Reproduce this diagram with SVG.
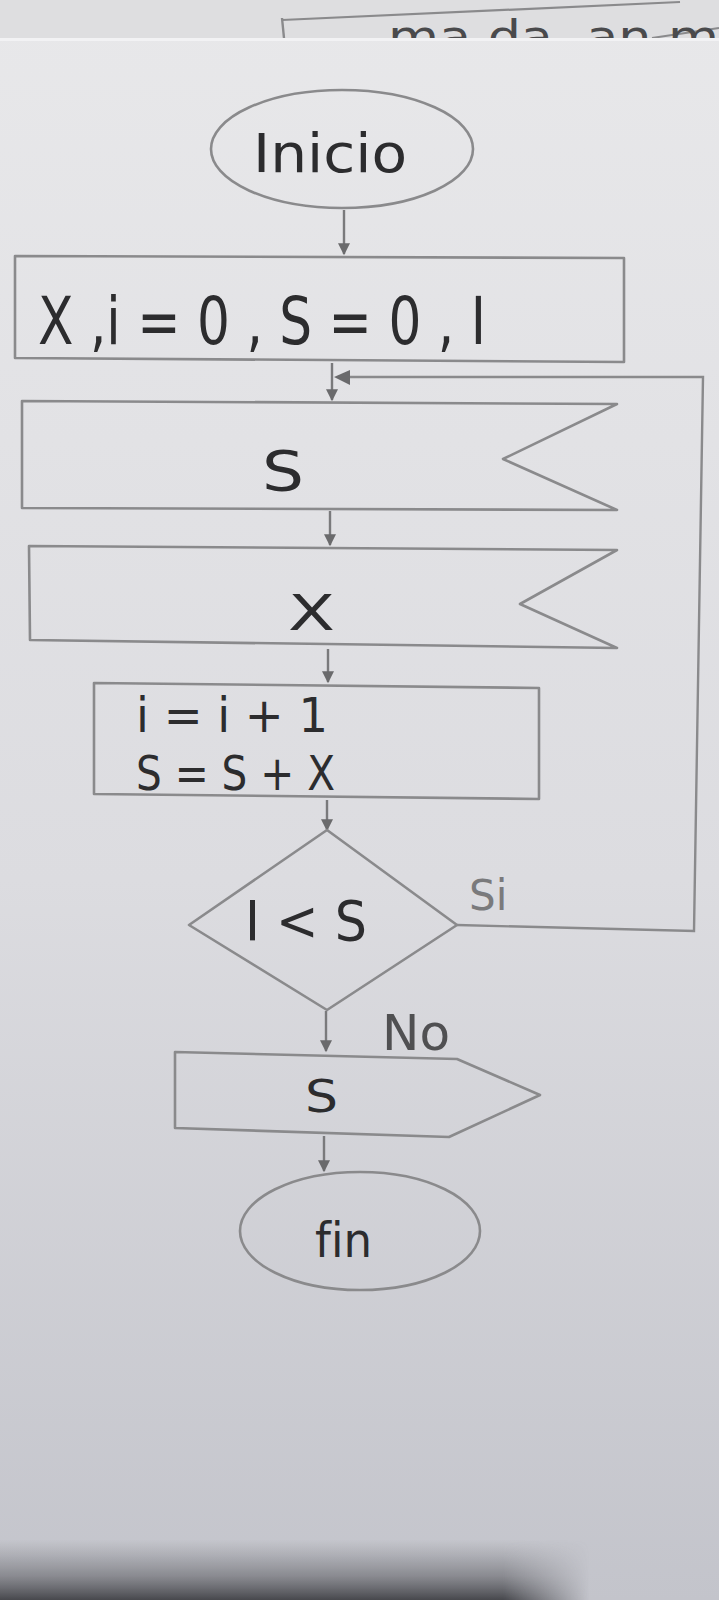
<svg xmlns="http://www.w3.org/2000/svg" width="719" height="1600" viewBox="0 0 719 1600">
  <defs>
    <linearGradient id="paper" x1="0" y1="0" x2="0" y2="1">
      <stop offset="0" stop-color="#e8e8ea"/>
      <stop offset="0.55" stop-color="#dcdce0"/>
      <stop offset="1" stop-color="#c3c4cb"/>
    </linearGradient>
    <linearGradient id="shadow" x1="0" y1="0" x2="0" y2="1">
      <stop offset="0" stop-color="#6a6b70" stop-opacity="0"/>
      <stop offset="0.6" stop-color="#5a5b60" stop-opacity="0.55"/>
      <stop offset="1" stop-color="#404146" stop-opacity="0.95"/>
    </linearGradient>
    <linearGradient id="shadowx" x1="0" y1="0" x2="1" y2="0">
      <stop offset="0" stop-color="#fff" stop-opacity="1"/>
      <stop offset="0.7" stop-color="#fff" stop-opacity="1"/>
      <stop offset="0.82" stop-color="#fff" stop-opacity="0"/>
    </linearGradient>
    <mask id="shm">
      <rect x="0" y="1540" width="719" height="60" fill="url(#shadowx)"/>
    </mask>
    <clipPath id="topclip">
      <rect x="0" y="0" width="719" height="38"/>
    </clipPath>
    <marker id="ah" viewBox="0 0 10 10" refX="9" refY="5" markerWidth="14" markerHeight="12" orient="auto-start-reverse" markerUnits="userSpaceOnUse">
      <path d="M0,0 L10,5 L0,10 z" fill="#6a6a6c"/>
    </marker>
    <style>
      .ln { fill: none; stroke: #8a8a8c; stroke-width: 2.6; stroke-linejoin: round; stroke-linecap: round; }
      .cn { fill: none; stroke: #8a8a8c; stroke-width: 2.4; }
      .ar { fill: none; stroke: #7a7a7c; stroke-width: 2.4; marker-end: url(#ah); }
      .tx { font-family: "DejaVu Sans", "Liberation Sans", sans-serif; fill: #2c2c2e; font-weight: normal; font-variant-ligatures: none; }
      .lb { font-family: "DejaVu Sans", "Liberation Sans", sans-serif; font-variant-ligatures: none; }
    </style>
  </defs>

  <!-- paper background -->
  <rect x="0" y="0" width="719" height="1600" fill="url(#paper)"/>
  <!-- sheet behind at top -->
  <g clip-path="url(#topclip)">
    <rect x="0" y="0" width="719" height="40" fill="#dedee0"/>
    <path d="M282,20 L680,2" stroke="#8a8a8c" stroke-width="2.2" fill="none"/>
    <path d="M282,18 L284,38" stroke="#8a8a8c" stroke-width="2.4" fill="none"/>
    <path d="M652,38 L719,28" stroke="#8a8a8c" stroke-width="2" fill="none"/>
    <text class="lb" x="388" y="52" font-size="44" fill="#4a4a4c" textLength="331" lengthAdjust="spacingAndGlyphs">ma da ,an,m</text>
  </g>
  <rect x="0" y="38" width="719" height="3" fill="#f2f2f4"/>
  <!-- bottom shadow -->
  <rect x="0" y="1540" width="719" height="60" fill="url(#shadow)" mask="url(#shm)"/>

  <!-- connectors -->
  <g id="connectors">
    <path class="ar" d="M344,210 L344,254"/>
    <path class="ar" d="M332,363 L332,400"/>
    <path class="ar" d="M330,511 L330,545"/>
    <path class="ar" d="M328,649 L328,682"/>
    <path class="ar" d="M327,800 L327,830"/>
    <path class="ar" d="M326,1011 L326,1051"/>
    <path class="ar" d="M324,1136 L324,1171"/>
    <path class="cn" d="M457,925 L694,931 L703,377 L348,377"/>
    <path d="M334,377 L350,370 L350,385 z" fill="#6a6a6c"/>
    <text class="lb" x="469" y="910" font-size="42" fill="#7a7a7c">Si</text>
    <text class="lb" x="382" y="1050" font-size="50" fill="#505052">No</text>
  </g>

  <g id="inicio">
    <ellipse class="ln" cx="342" cy="149" rx="131" ry="59"/>
    <text class="tx" x="253" y="172" font-size="54" textLength="154" lengthAdjust="spacingAndGlyphs">Inicio</text>
  </g>

  <g id="init">
    <path class="ln" d="M15,256 L624,258 L624,362 L15,358 Z"/>
    <text class="tx" x="38" y="344" font-size="66" textLength="448" lengthAdjust="spacingAndGlyphs">X ,i = 0 , S = 0 , I</text>
  </g>

  <g id="leer-s">
    <path class="ln" d="M22,401 L617,404 L503,459 L617,510 L22,508 Z"/>
    <text class="tx" x="262" y="490" font-size="56" textLength="42" lengthAdjust="spacingAndGlyphs">S</text>
  </g>

  <g id="leer-x">
    <path class="ln" d="M29,546 L617,550 L520,604 L617,648 L30,640 Z"/>
    <text class="tx" x="288" y="630" font-size="50" textLength="47" lengthAdjust="spacingAndGlyphs">X</text>
  </g>

  <g id="proceso">
    <path class="ln" d="M94,683 L539,688 L539,799 L94,794 Z"/>
    <text class="tx" x="136" y="732" font-size="48" textLength="192" lengthAdjust="spacingAndGlyphs">i = i + 1</text>
    <text class="tx" x="136" y="790" font-size="48" textLength="199" lengthAdjust="spacingAndGlyphs">S = S + X</text>
  </g>

  <g id="decision">
    <path class="ln" d="M327,830 L457,925 L327,1010 L189,925 Z"/>
    <text class="tx" x="245" y="940" font-size="56" textLength="122" lengthAdjust="spacingAndGlyphs">I &lt; S</text>
  </g>

  <g id="mostrar-s">
    <path class="ln" d="M175,1052 L457,1059 L540,1095 L449,1137 L175,1128 Z"/>
    <text class="tx" x="305" y="1112" font-size="44" textLength="33" lengthAdjust="spacingAndGlyphs">S</text>
  </g>

  <g id="fin">
    <ellipse class="ln" cx="360" cy="1231" rx="120" ry="59"/>
    <text class="tx" x="315" y="1257" font-size="48" textLength="57" lengthAdjust="spacingAndGlyphs">fin</text>
  </g>
</svg>
